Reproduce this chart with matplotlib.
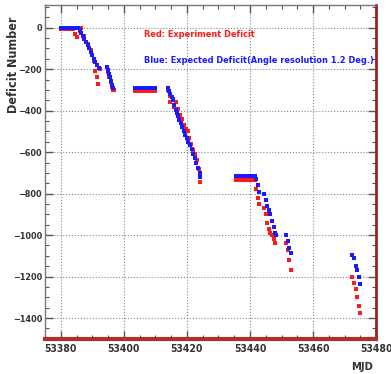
import numpy as np
import matplotlib
matplotlib.use("Agg")
import matplotlib.pyplot as plt
from matplotlib.ticker import MultipleLocator

plt.rcParams['font.family'] = ['DejaVu Sans']
plt.rcParams['font.stretch'] = 'condensed'

# expected deficit (blue)
blue_mjd = [53380.0, 53380.5, 53381.0, 53381.5, 53382.0, 53382.5, 53383.0, 53383.5, 53384.0, 53384.5, 53385.0, 53385.5,
            53386.0, 53386.5, 53387.0, 53387.5, 53388.0, 53388.5, 53389.0, 53389.5, 53390.0, 53390.5, 53391.0, 53391.5, 53392.0,
            53394.8, 53395.1, 53395.4, 53395.7, 53396.0, 53396.3, 53396.6,
            53403.5, 53404.0, 53404.5, 53405.0, 53405.5, 53406.0, 53406.5, 53407.0, 53407.5, 53408.0, 53408.5, 53409.0, 53409.5, 53410.0,
            53414.0, 53414.4, 53414.8, 53415.2, 53415.6, 53416.0, 53416.4, 53416.8, 53417.2, 53417.6, 53418.0, 53418.5,
            53419.0, 53419.5, 53420.0, 53420.5, 53421.0, 53421.5, 53422.0, 53422.5, 53423.0, 53423.5, 53424.0, 53424.2,
            53435.5, 53436.0, 53436.5, 53437.0, 53437.5, 53438.0, 53438.5, 53439.0, 53439.5, 53440.0, 53440.5, 53441.0, 53441.5,
            53442.0, 53442.5, 53443.0, 53444.5, 53445.0, 53445.5, 53446.0, 53446.5, 53447.0, 53447.5, 53448.0, 53448.3,
            53451.5, 53452.0, 53452.5, 53453.0,
            53472.5, 53473.0, 53473.5, 53474.0, 53474.5, 53475.0]
blue_def = [0, 0, 0, 0, 0, 0, 0, 0, 0, 0, 0, 0,
            -10, -25, -40, -55, -70, -85, -100, -115, -130, -150, -165, -180, -195,
            -190, -205, -225, -240, -255, -275, -290,
            -290, -290, -290, -290, -290, -290, -290, -290, -290, -290, -290, -290, -290, -290,
            -290, -305, -320, -335, -350, -375, -395, -410, -425, -445, -460, -480,
            -500, -515, -530, -550, -565, -585, -610, -630, -650, -675, -700, -720,
            -715, -715, -715, -715, -715, -715, -715, -715, -715, -715, -715, -715, -715,
            -730, -760, -790, -800, -830, -860, -880, -900, -930, -960, -990, -1000,
            -1000, -1030, -1060, -1085,
            -1095, -1110, -1150, -1170, -1200, -1235]

# experiment deficit (red)
red_mjd = [53380.0, 53380.5, 53381.0, 53381.5, 53382.0, 53382.5, 53383.0, 53383.5, 53384.0,
           53384.5, 53385.0, 53386.0, 53386.5, 53387.5, 53388.5, 53389.5, 53390.5, 53391.0, 53391.5, 53391.8, 53392.3,
           53395.0, 53395.4, 53395.8, 53396.2, 53396.6, 53397.0,
           53403.5, 53404.0, 53404.5, 53405.0, 53405.5, 53406.0, 53406.5, 53407.0, 53407.5, 53408.0, 53408.5, 53409.0, 53409.5, 53410.0,
           53414.0, 53414.5, 53414.8, 53415.6, 53416.0, 53416.6, 53417.2, 53417.8, 53418.4, 53419.0, 53419.6, 53420.2,
           53420.8, 53421.4, 53422.0, 53422.6, 53423.2, 53423.8, 53424.2,
           53435.5, 53436.0, 53436.5, 53437.0, 53437.5, 53438.0, 53438.5, 53439.0, 53439.5, 53440.0, 53440.5, 53441.0, 53441.5,
           53442.0, 53442.5, 53443.0, 53444.5, 53445.0, 53445.5, 53446.0, 53446.5, 53447.0, 53447.5, 53448.0,
           53451.5, 53452.0, 53452.5, 53453.0,
           53472.5, 53473.0, 53473.5, 53474.0, 53474.5, 53475.0]
red_def = [-5, -5, -5, -5, -5, -5, -5, -5, -5,
           -30, -45, -15, 0, -40, -80, -110, -160, -210, -240, -270, -200,
           -215, -240, -260, -285, -300, -300,
           -305, -305, -305, -305, -305, -305, -305, -305, -305, -305, -305, -305, -305, -305,
           -300, -330, -360, -345, -380, -360, -390, -420, -440, -470, -490, -500,
           -530, -560, -590, -610, -640, -680, -745,
           -732, -732, -732, -732, -732, -732, -732, -732, -732, -732, -732, -732, -732,
           -780, -820, -850, -870, -900, -940, -970, -990, -1000, -1020, -1040,
           -1040, -1070, -1120, -1170,
           -1200, -1230, -1260, -1300, -1340, -1375]

fig = plt.figure(figsize=(3.91, 3.74), dpi=100)
ax = fig.add_axes([0.115, 0.094, 0.847, 0.893])

ax.plot(red_mjd, red_def, 's', color='#ff1a1a', markersize=2.6, markeredgewidth=0)
ax.plot(blue_mjd, blue_def, 's', color='#1a1aff', markersize=3.2, markeredgewidth=0)

ax.set_xlim(53375, 53480)
ax.set_ylim(-1500, 110)
ax.xaxis.set_major_locator(MultipleLocator(20))
ax.xaxis.set_minor_locator(MultipleLocator(5))
ax.yaxis.set_major_locator(MultipleLocator(200))
ax.yaxis.set_minor_locator(MultipleLocator(50))
ax.grid(True, which='major', linestyle=':', color='#888888', linewidth=0.8)

ax.tick_params(which='both', direction='in', top=True, right=True, colors='#555555')
ax.tick_params(which='major', length=6, width=1)
ax.tick_params(which='minor', length=3, width=0.8)
ax.tick_params(axis='x', labelsize=7.5, labelcolor='#333333', pad=4)
ax.tick_params(axis='y', labelsize=6.5, labelcolor='#333333', pad=2)
for lab in ax.get_xticklabels() + ax.get_yticklabels():
    lab.set_fontweight('bold')

for s in ['left', 'top']:
    ax.spines[s].set_color('#777777')
    ax.spines[s].set_linewidth(1)
ax.spines['right'].set_color('#a02020')
ax.spines['right'].set_linewidth(2)
ax.spines['bottom'].set_color('#b03030')
ax.spines['bottom'].set_linewidth(3)

ax.set_ylabel('Deficit Number', fontsize=9, fontweight='bold', color='#333333')
ax.yaxis.set_label_coords(-0.075, 0.82)
fig.text(0.955, 0.012, 'MJD', fontsize=8, fontweight='bold', color='#333333', ha='right')

ax.text(0.30, 0.903, 'Red: Experiment Deficit', transform=ax.transAxes,
        color='#ff1a1a', fontsize=6.6, fontweight='bold')
ax.text(0.30, 0.825, 'Blue: Expected Deficit(Angle resolution 1.2 Deg.)', transform=ax.transAxes,
        color='#1a1aff', fontsize=6.6, fontweight='bold')

plt.savefig('out.png', dpi=100)
